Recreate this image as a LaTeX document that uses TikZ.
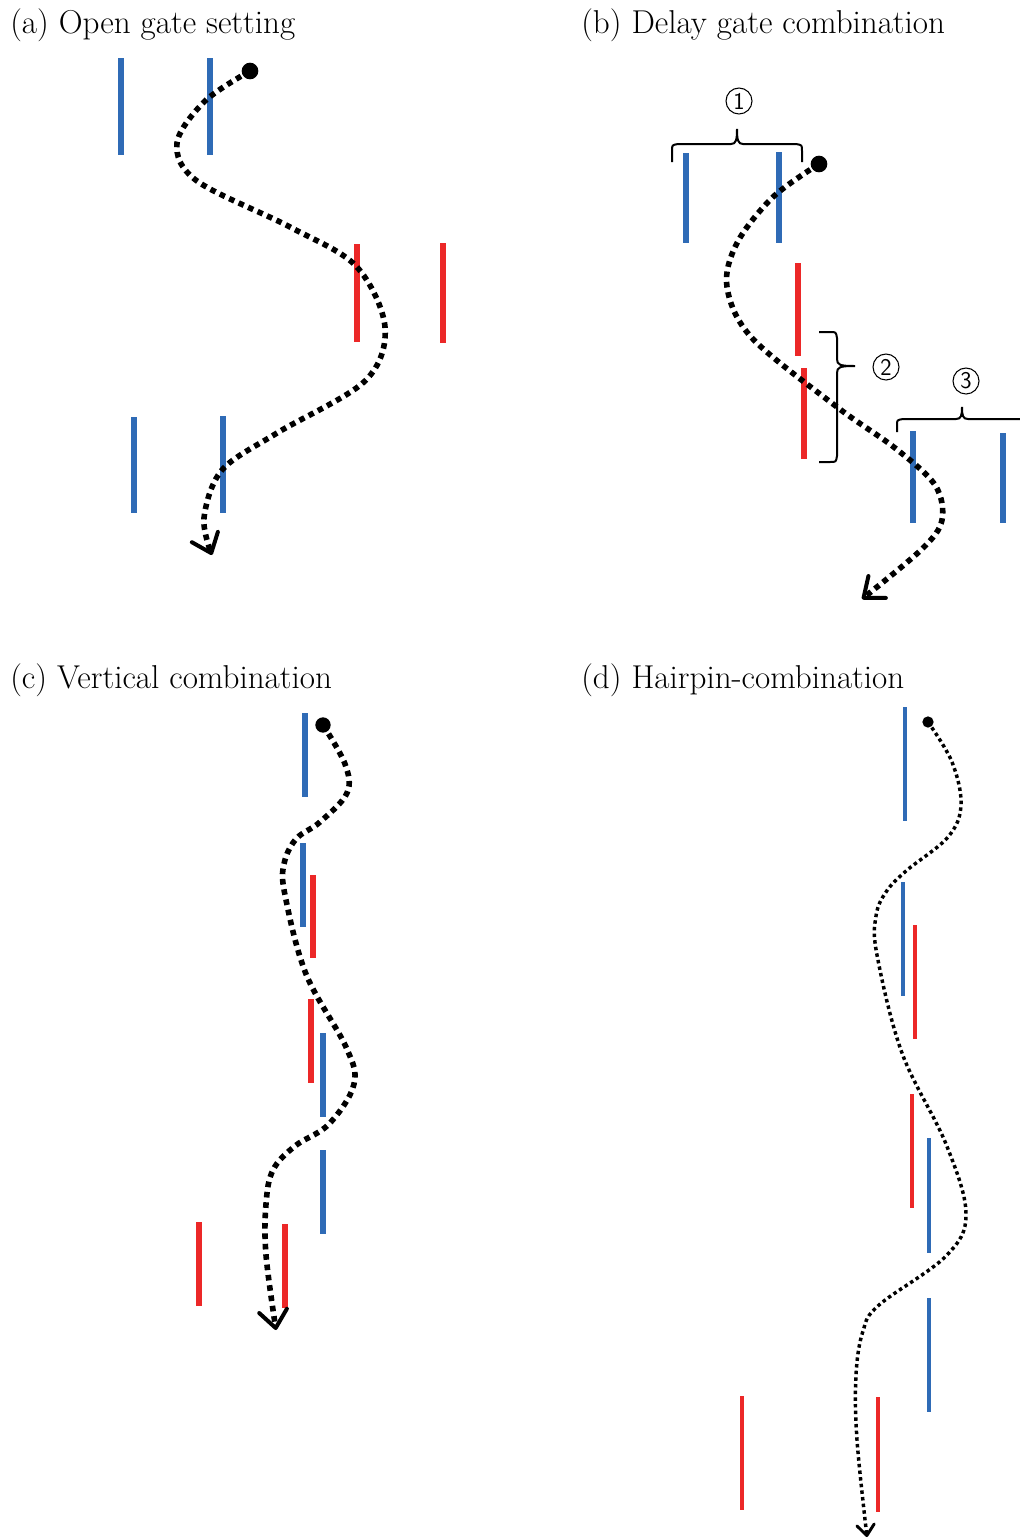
\documentclass[tikz,border=0pt]{standalone}
\usetikzlibrary{arrows.meta}
\definecolor{gateblue}{RGB}{47,107,182}
\definecolor{gatered}{RGB}{236,40,40}
\begin{document}
\begin{tikzpicture}[x=0.75pt,y=-0.75pt,
  gate/.style={line width=4.5pt},
  bluegate/.style={gate,draw=gateblue},
  redgate/.style={gate,draw=gatered},
  thin gate/.style={line width=3pt},
  thinblue/.style={thin gate,draw=gateblue},
  thinred/.style={thin gate,draw=gatered},
  route/.style={line width=4.2pt,dash pattern=on 4.2pt off 3.6pt,
    -{Straight Barb[length=13pt,width=21pt,line width'=3pt,round]}},
  thinroute/.style={line width=2.6pt,dash pattern=on 2.6pt off 2.4pt,
    -{Straight Barb[length=8pt,width=13pt,line width'=2.2pt,round]}},
  startdot/.style={circle,fill=black,inner sep=0pt,minimum size=#1},
  title/.style={anchor=base west,inner sep=0pt,font=\fontsize{24.8}{28}\selectfont},
  num/.style={circle,draw,line width=0.8pt,inner sep=0pt,minimum size=19.5pt,
    font=\fontsize{18}{18}\sffamily},
  brace/.style={line width=1.5pt}
]
\useasboundingbox (0,0) rectangle (1020,1539);

% ---------- titles ----------
\node[title] (ta) at (10,33) {(a) Open gate setting};
\node[title] (tb) at (581,33) {(b) Delay gate combination};
\node[title] (tc) at (10,688) {(c) Vertical combination};
\node[title] (td) at (581,688) {(d) Hairpin-combination};

% ---------- (a) open gate setting ----------
\draw[bluegate] (121,58) -- (121,155);
\draw[bluegate] (210,58) -- (210,155);
\draw[redgate] (357,244) -- (357,342);
\draw[redgate] (443,243) -- (443,343);
\draw[bluegate] (134,417) -- (134,513);
\draw[bluegate] (223,416) -- (223,513);

\node[startdot=12.5pt] (a0) at (250,71) {};
\coordinate (a1) at (212,555);
\draw[route] plot[smooth,tension=0.55] coordinates {(a0.center) (205,101) (177,143) (197,181) (290,227) (356,266) (385,327) (365,381) (277,433) (222,470) (204,518) (a1)};

% ---------- (b) delay gate combination ----------
\draw[bluegate] (686,153) -- (686,243);
\draw[bluegate] (779,152) -- (779,243);
\draw[redgate] (798,263) -- (798,356);
\draw[redgate] (804,368) -- (804,459);
\draw[bluegate] (913,431) -- (913,523);
\draw[bluegate] (1003,433) -- (1003,523);

% braces grouping the gates
\draw[brace] (672,162) -- (672,151) .. controls (672,145) .. (678,144) -- (731,144)
  .. controls (736,144) and (737,140) .. (737,129)
  .. controls (737,140) and (738,144) .. (743,144) -- (796,144)
  .. controls (802,145) .. (802,151) -- (802,162);
\draw[brace] (819,332) -- (830,332) .. controls (836,332) .. (837,338) -- (837,359)
  .. controls (837,365) and (840,366) .. (855,366)
  .. controls (840,366) and (837,367) .. (837,373) -- (837,456)
  .. controls (836,462) .. (830,462) -- (819,462);
\draw[brace] (897,432) -- (897,425) .. controls (897,420) .. (903,419) -- (956,419)
  .. controls (961,419) and (962,416) .. (962,407)
  .. controls (962,416) and (963,419) .. (968,419) -- (1030,419);

\node[num] (n1) at (739,101) {1};
\node[num] (n2) at (886,367) {2};
\node[num] (n3) at (966,381) {3};

\node[startdot=12.5pt] (b0) at (819,164) {};
\coordinate (b1) at (862,599);
\draw[route] plot[smooth,tension=0.55] coordinates {(b0.center) (773,197) (737,243) (727,287) (752,338) (837,407) (895,448) (935,485) (942,520) (922,549) (b1)};

% ---------- (c) vertical combination ----------
\draw[bluegate] (305,713) -- (305,797);
\draw[bluegate] (303,843) -- (303,927);
\draw[redgate] (313,875) -- (313,958);
\draw[redgate] (311,999) -- (311,1083);
\draw[bluegate] (323,1033) -- (323,1117);
\draw[bluegate] (323,1150) -- (323,1234);
\draw[redgate] (199,1222) -- (199,1306);
\draw[redgate] (285,1224) -- (285,1308);

\node[startdot=11.5pt] (c0) at (323,725) {};
\coordinate (c1) at (276,1330);
\draw[route] plot[smooth,tension=0.6] coordinates {(c0.center) (345,764) (347,793) (320,822) (296,839) (284,864) (285,895) (306,974) (346,1047) (354,1084) (329,1124) (295,1146) (273,1170) (266,1204) (266,1255) (c1)};

% ---------- (d) hairpin combination ----------
\draw[thinblue] (905,707) -- (905,821);
\draw[thinblue] (903,882) -- (903,996);
\draw[thinred] (915,925) -- (915,1039);
\draw[thinred] (912,1094) -- (912,1208);
\draw[thinblue] (929,1138) -- (929,1253);
\draw[thinblue] (929,1298) -- (929,1412);
\draw[thinred] (742,1396) -- (742,1510);
\draw[thinred] (878,1397) -- (878,1512);

\node[startdot=8.5pt] (d0) at (928,722) {};
\coordinate (d1) at (867,1537);
\draw[thinroute] plot[smooth,tension=0.6] coordinates {(d0.center) (952,762) (961,805) (948,837) (906,871) (886,892) (876,916) (877,955) (902,1053) (946,1144) (966,1214) (946,1256) (879,1305) (863,1331) (856,1375) (857,1440) (d1)};
\end{tikzpicture}
\end{document}
